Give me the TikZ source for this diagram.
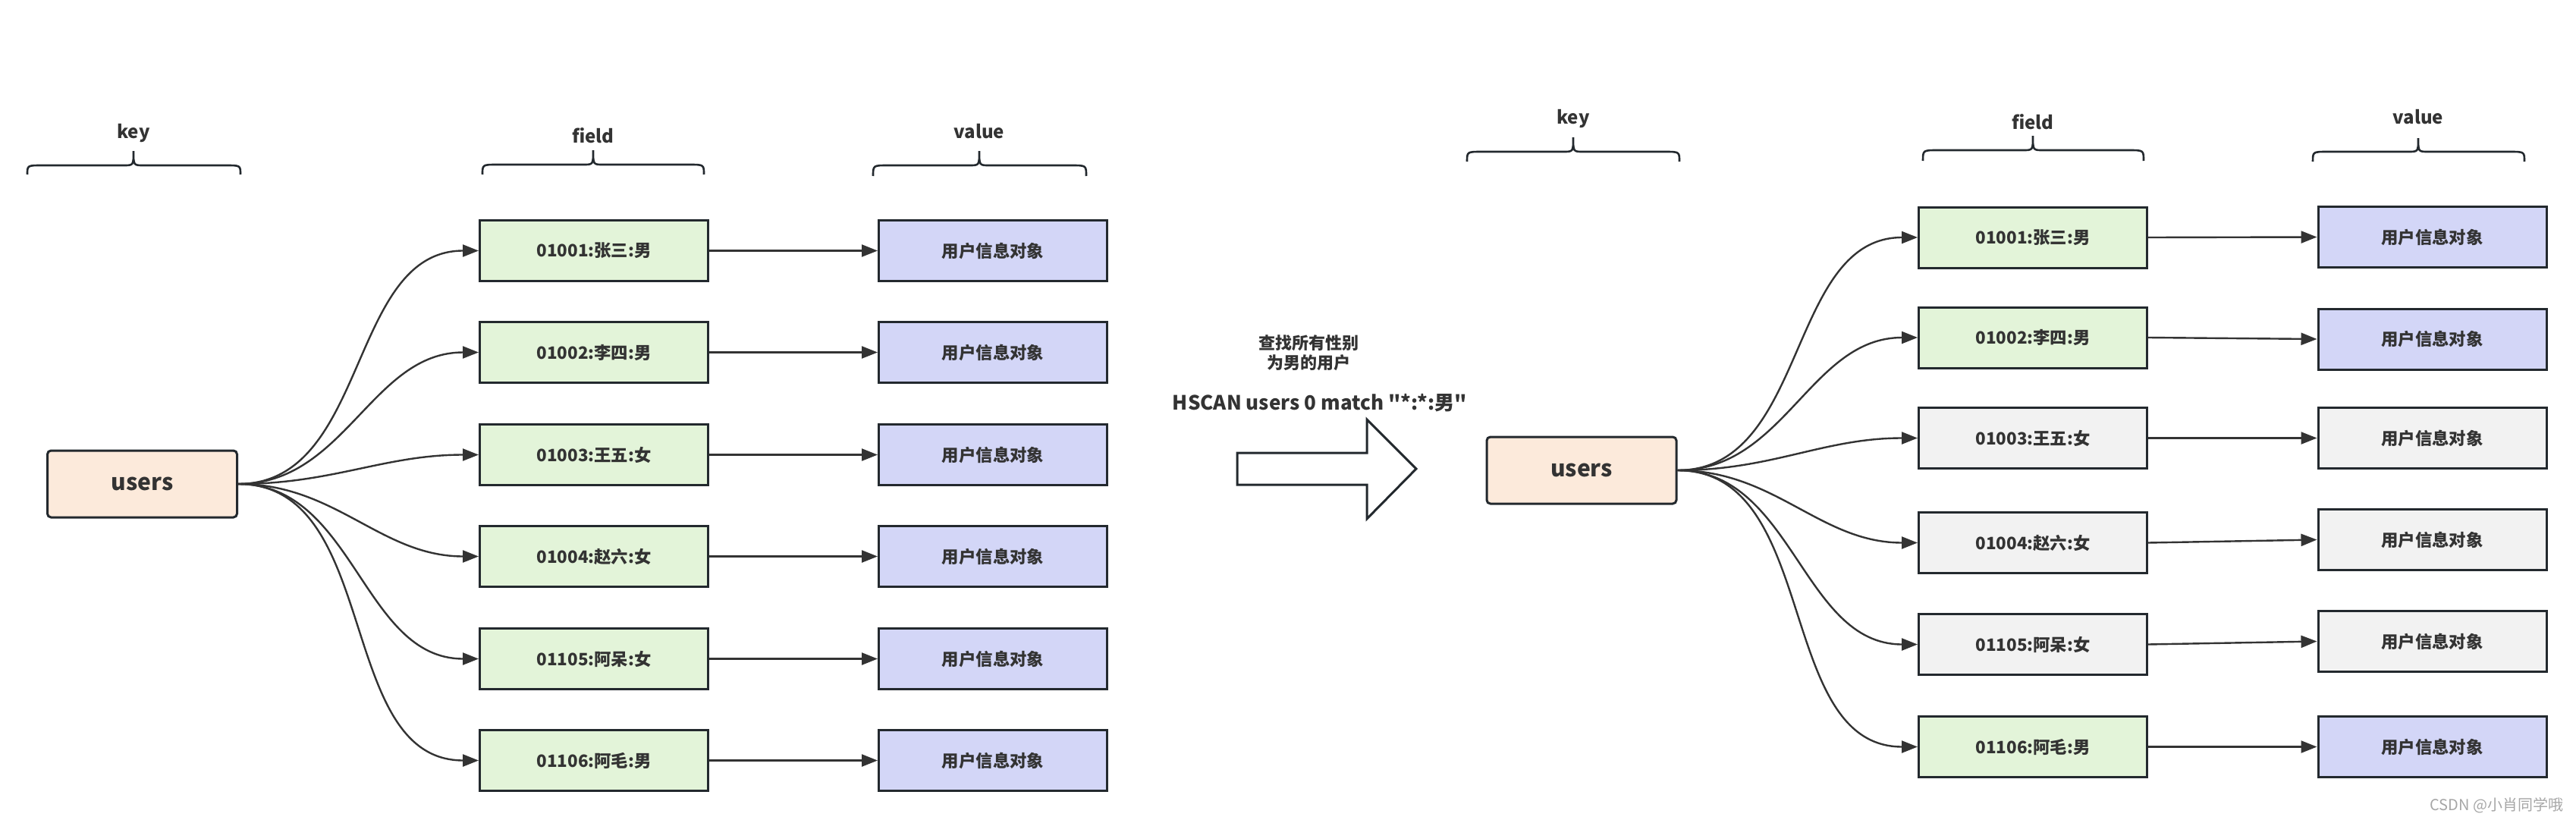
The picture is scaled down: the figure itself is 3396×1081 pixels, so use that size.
\documentclass[tikz,border=0pt]{standalone}
\usepackage{xcolor}
\usepackage{fontspec}
\setmainfont{Noto Sans CJK SC}[Ligatures=TeXOff]
\usepackage{tikz}
\usetikzlibrary{arrows.meta}

\definecolor{textcol}{HTML}{333333}
\definecolor{edgecol}{HTML}{333333}
\definecolor{bordercol}{HTML}{23292E}
\definecolor{fieldgreen}{HTML}{E3F4D9}
\definecolor{valueblue}{HTML}{D3D6F7}
\definecolor{keypeach}{HTML}{FCEADB}
\definecolor{skipgray}{HTML}{F2F2F2}

\begin{document}
\begin{tikzpicture}[
  x=0.25pt, y=-0.25pt,
  every node/.style={text=textcol, inner sep=0pt},
  cellbox/.style={draw=bordercol, line width=0.75pt, minimum width=75.25pt, minimum height=20pt, font=\bfseries\fontsize{5.6}{6.7}\selectfont},
  fieldbox/.style={cellbox, fill=fieldgreen},
  valuebox/.style={cellbox, fill=valueblue},
  skipbox/.style={cellbox, fill=skipgray},
  keybox/.style={draw=bordercol, line width=0.75pt, fill=keypeach, rounded corners=1.2pt, minimum width=62.5pt, minimum height=22pt, font=\bfseries\fontsize{7.5}{9}\selectfont},
  colhead/.style={anchor=base, font=\bfseries\fontsize{6}{7}\selectfont},
  curly/.style={draw=bordercol, line width=0.65pt},
  link/.style={draw=edgecol, line width=0.6pt, -{Triangle[length=5.25pt,width=4pt]}}
  ]
  \useasboundingbox (0,0) rectangle (3396,1081);

  \node[colhead] (keyhead) at (176,182) {key};
  \node[colhead] (fieldhead) at (782,188) {field};
  \node[colhead] (valuehead) at (1291,182) {value};
  \draw[curly] (36,230) .. controls (36,218) .. (56,218) -- (163,218) .. controls (176,218) .. (176,199) .. controls (176,218) .. (189,218) -- (297,218) .. controls (317,218) .. (317,230);
  \draw[curly] (636,230) .. controls (636,217) .. (656,217) -- (769,217) .. controls (782,217) .. (782,198) .. controls (782,217) .. (795,217) -- (908,217) .. controls (928,217) .. (928,230);
  \draw[curly] (1151,232) .. controls (1151,218) .. (1171,218) -- (1278,218) .. controls (1291,218) .. (1291,199) .. controls (1291,218) .. (1304,218) -- (1412,218) .. controls (1432,218) .. (1432,232);

  \node[keybox] (users) at (187.5,638) {users};
  \node[fieldbox] (f1) at (783,330.5) {01001:张三:男};
  \node[fieldbox] (f2) at (783,464.5) {01002:李四:男};
  \node[fieldbox] (f3) at (783,599.5) {01003:王五:女};
  \node[fieldbox] (f4) at (783,733.5) {01004:赵六:女};
  \node[fieldbox] (f5) at (783,868.5) {01105:阿呆:女};
  \node[fieldbox] (f6) at (783,1002.5) {01106:阿毛:男};
  \node[valuebox] (v1) at (1309,330.5) {用户信息对象};
  \node[valuebox] (v2) at (1309,464.5) {用户信息对象};
  \node[valuebox] (v3) at (1309,599.5) {用户信息对象};
  \node[valuebox] (v4) at (1309,733.5) {用户信息对象};
  \node[valuebox] (v5) at (1309,868.5) {用户信息对象};
  \node[valuebox] (v6) at (1309,1002.5) {用户信息对象};

  \draw[link] (users.east) to[out=0,in=180] (f1.west);
  \draw[link] (users.east) to[out=0,in=180] (f2.west);
  \draw[link] (users.east) to[out=0,in=180] (f3.west);
  \draw[link] (users.east) to[out=0,in=180] (f4.west);
  \draw[link] (users.east) to[out=0,in=180] (f5.west);
  \draw[link] (users.east) to[out=0,in=180] (f6.west);
  \draw[link] (f1) -- (v1);
  \draw[link] (f2) -- (v2);
  \draw[link] (f3) -- (v3);
  \draw[link] (f4) -- (v4);
  \draw[link] (f5) -- (v5);
  \draw[link] (f6) -- (v6);

  \node[align=center, font=\bfseries\fontsize{5.5}{6.5}\selectfont] (query) at (1725,465) {查找所有性别\\为男的用户};
  \node[font=\bfseries\fontsize{6.5}{8}\selectfont] (command) at (1740,531) {HSCAN users 0 match "*:*:男"};
  \draw[bordercol, line width=0.75pt, fill=white] (1631,597) -- (1802,597) -- (1802,553) -- (1867,618) -- (1802,684) -- (1802,639) -- (1631,639) -- cycle;

  \node[colhead] (keyhead2) at (2074,163) {key};
  \node[colhead] (fieldhead2) at (2680,170) {field};
  \node[colhead] (valuehead2) at (3188,163) {value};
  \draw[curly] (1934,213) .. controls (1934,200) .. (1954,200) -- (2061,200) .. controls (2074,200) .. (2074,181) .. controls (2074,200) .. (2087,200) -- (2194,200) .. controls (2214,200) .. (2214,213);
  \draw[curly] (2535,212) .. controls (2535,198) .. (2555,198) -- (2667,198) .. controls (2680,198) .. (2680,179) .. controls (2680,198) .. (2693,198) -- (2806,198) .. controls (2826,198) .. (2826,212);
  \draw[curly] (3049,213) .. controls (3049,200) .. (3069,200) -- (3175,200) .. controls (3188,200) .. (3188,182) .. controls (3188,200) .. (3201,200) -- (3308,200) .. controls (3328,200) .. (3328,213);

  \node[keybox] (users2) at (2085,620) {users};
  \node[fieldbox] (g1) at (2680,313) {01001:张三:男};
  \node[fieldbox] (g2) at (2680,445) {01002:李四:男};
  \node[skipbox] (g3) at (2680,577.5) {01003:王五:女};
  \node[skipbox] (g4) at (2680,715.5) {01004:赵六:女};
  \node[skipbox] (g5) at (2680,849.5) {01105:阿呆:女};
  \node[fieldbox] (g6) at (2680,984.5) {01106:阿毛:男};
  \node[valuebox] (w1) at (3206.5,312.5) {用户信息对象};
  \node[valuebox] (w2) at (3206.5,447) {用户信息对象};
  \node[skipbox] (w3) at (3206.5,577.5) {用户信息对象};
  \node[skipbox] (w4) at (3206.5,711.5) {用户信息对象};
  \node[skipbox] (w5) at (3206.5,845.5) {用户信息对象};
  \node[valuebox] (w6) at (3206.5,984.5) {用户信息对象};

  \draw[link] (users2.east) to[out=0,in=180] (g1.west);
  \draw[link] (users2.east) to[out=0,in=180] (g2.west);
  \draw[link] (users2.east) to[out=0,in=180] (g3.west);
  \draw[link] (users2.east) to[out=0,in=180] (g4.west);
  \draw[link] (users2.east) to[out=0,in=180] (g5.west);
  \draw[link] (users2.east) to[out=0,in=180] (g6.west);
  \draw[link] (g1.east) -- (w1.west);
  \draw[link] (g2.east) -- (w2.west);
  \draw[link] (g3.east) -- (w3.west);
  \draw[link] (g4.east) -- (w4.west);
  \draw[link] (g5.east) -- (w5.west);
  \draw[link] (g6.east) -- (w6.west);

  \node[anchor=east, text=gray!70, font=\fontsize{5}{6}\selectfont] (mark) at (3380,1062) {CSDN @小肖同学哦};
\end{tikzpicture}
\end{document}
